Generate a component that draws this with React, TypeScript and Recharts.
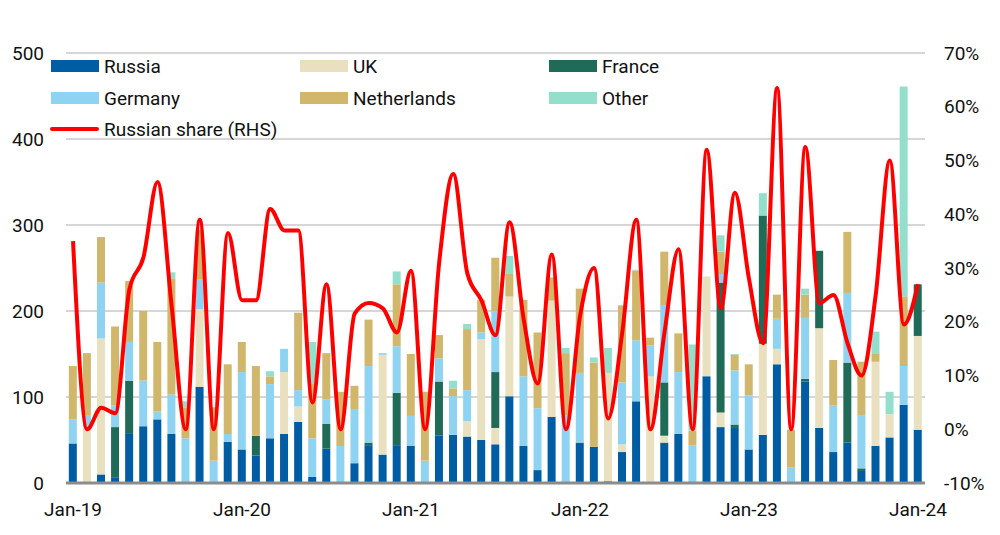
import React from "react";
import {
  ComposedChart,
  Bar,
  Line,
  XAxis,
  YAxis,
  CartesianGrid,
} from "recharts";

// Month labels Jan-19 ... Jan-24
const MONTHS = ["Jan", "Feb", "Mar", "Apr", "May", "Jun", "Jul", "Aug", "Sep", "Oct", "Nov", "Dec"];
const YEARS = ["19", "20", "21", "22", "23", "24"];
const CATEGORIES = YEARS.flatMap((y) => MONTHS.map((m) => `${m}-${y}`)).slice(0, 61);

// Volumes by origin (LHS)
const RUSSIA = [
  46, 0, 10, 6, 58, 66, 74, 57, 0, 112, 0, 48,
  39, 32, 52, 57, 71, 7, 40, 0, 23, 44, 33, 44,
  43, 0, 55, 56, 54, 50, 45, 101, 43, 15, 77, 0,
  47, 42, 2, 36, 95, 0, 47, 57, 0, 124, 65, 64,
  39, 56, 138, 0, 118, 64, 36, 47, 14, 43, 53, 91,
  62,
];
const UK = [
  0, 65, 158, 0, 0, 0, 0, 0, 0, 90, 0, 0,
  0, 0, 0, 72, 18, 0, 0, 0, 0, 0, 116, 0,
  0, 0, 0, 0, 18, 117, 19, 116, 0, 0, 135, 0,
  0, 0, 126, 9, 0, 124, 8, 0, 0, 116, 17, 0,
  0, 106, 18, 0, 0, 116, 0, 0, 0, 98, 27, 0,
  109,
];
const FRANCE = [
  0, 0, 0, 59, 61, 0, 0, 0, 0, 0, 0, 0,
  0, 23, 0, 0, 0, 0, 29, 0, 0, 3, 0, 61,
  0, 0, 63, 0, 0, 0, 65, 0, 0, 0, 0, 0,
  0, 0, 0, 0, 0, 0, 62, 0, 0, 0, 151, 4,
  0, 149, 0, 0, 3, 90, 0, 93, 3, 0, 0, 0,
  60,
];
const GERMANY = [
  28, 14, 65, 25, 45, 53, 9, 46, 52, 35, 26, 9,
  90, 0, 63, 27, 19, 45, 28, 43, 63, 89, 2, 54,
  35, 26, 27, 45, 36, 8, 71, 0, 81, 72, 0, 79,
  81, 0, 0, 72, 71, 36, 89, 72, 44, 0, 10, 63,
  63, 0, 35, 18, 71, 0, 54, 81, 62, 0, 0, 45,
  0,
];
const NETHERLANDS = [
  62, 72, 53, 92, 71, 81, 81, 135, 36, 57, 62, 81,
  35, 81, 9, 0, 90, 64, 54, 63, 27, 54, 0, 72,
  72, 80, 27, 9, 71, 38, 62, 26, 89, 88, 27, 72,
  98, 98, 0, 89, 81, 9, 63, 45, 17, 0, 26, 18,
  36, 0, 28, 44, 27, 0, 53, 71, 62, 9, 0, 81,
  0,
];
const OTHER = [
  0, 0, 0, 0, 0, 0, 0, 7, 7, 0, 0, 0,
  0, 0, 6, 0, 0, 48, 0, 0, 0, 0, 0, 15,
  0, 0, 0, 9, 6, 0, 0, 21, 0, 0, 0, 6,
  0, 6, 29, 1, 1, 0, 0, 0, 100, 0, 19, 1,
  0, 26, 0, 0, 7, 0, 0, 0, 0, 26, 26, 244,
  0,
];
// Russian share, % (RHS)
const RUSSIAN_SHARE = [
  35, 0, 4, 3, 26, 32, 46, 23, 0, 39, 0, 36.5,
  24, 24, 41, 37, 37, 5, 27, 0, 21.5, 23.5, 22.5, 18,
  29.5, 0, 31, 47.5, 29, 24, 17.5, 38.5, 20.5, 8.5, 32.5, 0,
  21, 30, 2, 18, 39, 0, 18, 33.5, 0, 52, 22.5, 44,
  28, 16, 63.5, 0, 52.5, 23.5, 25, 16, 10, 25, 50, 19.5,
  27,
];

const LEFT_TICKS = [0, 100, 200, 300, 400, 500];
const RIGHT_TICKS = [-10, 0, 10, 20, 30, 40, 50, 60, 70];

const COLORS = {
  russia: "#005da3",
  uk: "#e9e0bf",
  france: "#206a58",
  germany: "#8ed4f2",
  netherlands: "#d0b76c",
  other: "#94dfcc",
  share: "#ff0000",
};

const data = CATEGORIES.map((month, i) => ({
  month,
  russia: RUSSIA[i],
  uk: UK[i],
  france: FRANCE[i],
  germany: GERMANY[i],
  netherlands: NETHERLANDS[i],
  other: OTHER[i],
  share: RUSSIAN_SHARE[i],
}));

const FONT = "Roboto, 'Noto Sans', sans-serif";
const tickStyle = { fontSize: 19, fill: "#111", fontFamily: FONT };

const LEGEND_ROWS = [
  [
    { label: "Russia", color: COLORS.russia },
    { label: "UK", color: COLORS.uk },
    { label: "France", color: COLORS.france },
  ],
  [
    { label: "Germany", color: COLORS.germany },
    { label: "Netherlands", color: COLORS.netherlands },
    { label: "Other", color: COLORS.other },
  ],
];

function ChartLegend() {
  const colX = [51, 300, 549];
  const rowY = [66, 98];
  return (
    <div style={{ position: "absolute", left: 0, top: 0, fontFamily: FONT, fontSize: 19, color: "#111" }}>
      {LEGEND_ROWS.map((row, r) =>
        row.map((item, c) => (
          <div
            key={item.label}
            style={{ position: "absolute", left: colX[c], top: rowY[r] - 12, height: 24, display: "flex", alignItems: "center", whiteSpace: "nowrap" }}
          >
            <span style={{ display: "inline-block", width: 48, height: 12, background: item.color, marginRight: 5 }} />
            <span>{item.label}</span>
          </div>
        ))
      )}
      <div style={{ position: "absolute", left: 50, top: 129 - 12, height: 24, display: "flex", alignItems: "center", whiteSpace: "nowrap" }}>
        <span style={{ display: "inline-block", width: 49, height: 4, background: COLORS.share, marginRight: 5, borderRadius: 2 }} />
        <span>Russian share (RHS)</span>
      </div>
    </div>
  );
}

export default function App() {
  return (
    <div style={{ position: "absolute", left: 0, top: 0, width: 1000, height: 535, background: "#fff" }}>
      <ComposedChart
        width={1000}
        height={535}
        data={data}
        margin={{ top: 53, right: 0, bottom: 0, left: 0 }}
        barCategoryGap="20%"
      >
        <CartesianGrid vertical={false} stroke="#c8c8c8" strokeWidth={1.5} yAxisId="left" />
        <XAxis
          dataKey="month"
          interval={11}
          tickLine={false}
          tickSize={0}
          tickMargin={20}
          height={52}
          axisLine={{ stroke: "#8c8c8c", strokeWidth: 3 }}
          tick={tickStyle}
        />
        <YAxis
          yAxisId="left"
          orientation="left"
          domain={[0, 500]}
          ticks={LEFT_TICKS}
          width={66}
          axisLine={false}
          tickLine={false}
          tickSize={0}
          tickMargin={22}
          tick={tickStyle}
        />
        <YAxis
          yAxisId="right"
          orientation="right"
          domain={[-10, 70]}
          ticks={RIGHT_TICKS}
          width={75}
          axisLine={false}
          tickLine={false}
          tickSize={0}
          tickMargin={19}
          tick={{ ...tickStyle, textAnchor: "start" }}
          tickFormatter={(v) => `${v}%`}
        />
        <Bar yAxisId="left" dataKey="russia" stackId="a" fill={COLORS.russia} isAnimationActive={false} />
        <Bar yAxisId="left" dataKey="uk" stackId="a" fill={COLORS.uk} isAnimationActive={false} />
        <Bar yAxisId="left" dataKey="france" stackId="a" fill={COLORS.france} isAnimationActive={false} />
        <Bar yAxisId="left" dataKey="germany" stackId="a" fill={COLORS.germany} isAnimationActive={false} />
        <Bar yAxisId="left" dataKey="netherlands" stackId="a" fill={COLORS.netherlands} isAnimationActive={false} />
        <Bar yAxisId="left" dataKey="other" stackId="a" fill={COLORS.other} isAnimationActive={false} />
        <Line
          yAxisId="right"
          dataKey="share"
          type="monotone"
          stroke={COLORS.share}
          strokeWidth={4}
          dot={false}
          activeDot={false}
          isAnimationActive={false}
        />
      </ComposedChart>
      <ChartLegend />
    </div>
  );
}
